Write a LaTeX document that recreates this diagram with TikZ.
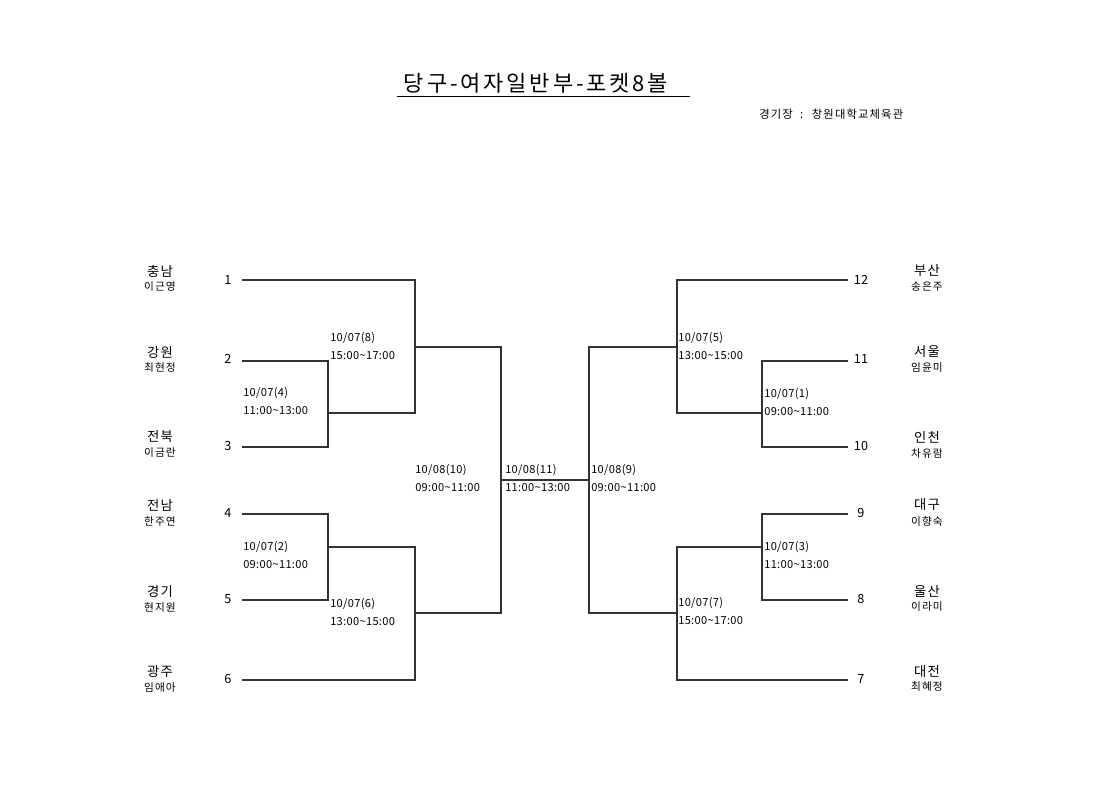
\documentclass[tikz,border=0pt]{standalone}
\usepackage{fontspec}
\setmainfont{Noto Sans CJK KR}
\begin{document}
\begin{tikzpicture}[x=0.75pt,y=-0.75pt,
  bline/.style={draw=black!80,line width=0.8pt},
  seednum/.style={font=\fontsize{9.5}{11}\selectfont,inner sep=0pt},
  team/.style={font=\fontsize{10}{11}\selectfont\addfontfeatures{LetterSpace=8},inner sep=0pt},
  player/.style={font=\fontsize{8}{9}\selectfont\addfontfeatures{LetterSpace=10},inner sep=0pt},
  gamelbl/.style={font=\fontsize{8.3}{13.5}\selectfont\addfontfeatures{LetterSpace=3},align=left,anchor=west,inner sep=0pt}]
\useasboundingbox (0,0) rectangle (1120,792);
% title
\node[inner sep=0pt,font=\fontsize{16.5}{18}\selectfont\addfontfeatures{LetterSpace=13}] (title) at (536,83) {당구-여자일반부-포켓8볼};
\coordinate (ul1) at (397,96);
\coordinate (ul2) at (690,96);
\draw[black,line width=0.7pt] (ul1) -- (ul2);
\node[inner sep=0pt,anchor=west,font=\fontsize{8.5}{9}\selectfont\addfontfeatures{LetterSpace=10}] (venue) at (759,114) {경기장 \ : \ 창원대학교체육관};
% left seed line ends
\coordinate (a1) at (242,280);
\coordinate (a2) at (242,361);
\coordinate (a3) at (242,447);
\coordinate (a4) at (242,514);
\coordinate (a5) at (242,600);
\coordinate (a6) at (242,680);
% right seed line ends
\coordinate (b12) at (848,280);
\coordinate (b11) at (848,361);
\coordinate (b10) at (848,447);
\coordinate (b9) at (848,514);
\coordinate (b8) at (848,600);
\coordinate (b7) at (848,680);
% match points
\coordinate (c4) at (328,413);
\coordinate (c8) at (415,347);
\coordinate (c2) at (328,547);
\coordinate (c6) at (415,613);
\coordinate (c10) at (501,480);
\coordinate (c9) at (589,480);
\coordinate (c5) at (677,347);
\coordinate (c1) at (762,413);
\coordinate (c7) at (677,613);
\coordinate (c3) at (762,547);
% left bracket
\draw[bline] (a1) -| (c8) |- (c4);
\draw[bline] (a2) -| (c4) |- (a3);
\draw[bline] (c8) -| (c10) |- (c6);
\draw[bline] (c2) -| (c6) |- (a6);
\draw[bline] (a4) -| (c2) |- (a5);
\draw[bline] (c10) -- (c9);
% right bracket
\draw[bline] (c9) |- (c5);
\draw[bline] (c5) |- (b12);
\draw[bline] (c5) |- (c1);
\draw[bline] (b11) -| (c1) |- (b10);
\draw[bline] (c9) |- (c7);
\draw[bline] (c7) |- (c3);
\draw[bline] (c7) |- (b7);
\draw[bline] (b9) -| (c3) |- (b8);
% seed numbers
\node[seednum] (n1) at (228,280) {1};
\node[seednum] (n2) at (228,359) {2};
\node[seednum] (n3) at (228,446) {3};
\node[seednum] (n4) at (228,513) {4};
\node[seednum] (n5) at (228,599) {5};
\node[seednum] (n6) at (228,679) {6};
\node[seednum] (n12) at (861,280) {12};
\node[seednum] (n11) at (861,359) {11};
\node[seednum] (n10) at (861,446) {10};
\node[seednum] (n9) at (861,513) {9};
\node[seednum] (n8) at (861,599) {8};
\node[seednum] (n7) at (861,679) {7};
% teams left
\node[team] (t1) at (160,271) {충남};
\node[player] (p1) at (160,287) {이근영};
\node[team] (t2) at (160,352) {강원};
\node[player] (p2) at (160,368) {최현정};
\node[team] (t3) at (160,437) {전북};
\node[player] (p3) at (160,453) {이금란};
\node[team] (t4) at (160,505) {전남};
\node[player] (p4) at (160,521) {한주연};
\node[team] (t5) at (160,591) {경기};
\node[player] (p5) at (160,607) {현지원};
\node[team] (t6) at (160,671) {광주};
\node[player] (p6) at (160,687) {임애아};
% teams right
\node[team] (t12) at (927,271) {부산};
\node[player] (p12) at (927,287) {송은주};
\node[team] (t11) at (927,352) {서울};
\node[player] (p11) at (927,368) {임윤미};
\node[team] (t10) at (927,437) {인천};
\node[player] (p10) at (927,453) {차유람};
\node[team] (t9) at (927,505) {대구};
\node[player] (p9) at (927,521) {이향숙};
\node[team] (t8) at (927,591) {울산};
\node[player] (p8) at (927,607) {이라미};
\node[team] (t7) at (927,671) {대전};
\node[player] (p7) at (927,687) {최혜정};
% game labels
\node[gamelbl] (g8) at (330,346) {10/07(8)\\15:00\textasciitilde17:00};
\node[gamelbl] (g4) at (243,401) {10/07(4)\\11:00\textasciitilde13:00};
\node[gamelbl] (g2) at (243,555) {10/07(2)\\09:00\textasciitilde11:00};
\node[gamelbl] (g6) at (330,612) {10/07(6)\\13:00\textasciitilde15:00};
\node[gamelbl] (g10) at (415,478) {10/08(10)\\09:00\textasciitilde11:00};
\node[gamelbl] (g11) at (505,478) {10/08(11)\\11:00\textasciitilde13:00};
\node[gamelbl] (g9) at (591,478) {10/08(9)\\09:00\textasciitilde11:00};
\node[gamelbl] (g5) at (678,346) {10/07(5)\\13:00\textasciitilde15:00};
\node[gamelbl] (g1) at (764,402) {10/07(1)\\09:00\textasciitilde11:00};
\node[gamelbl] (g3) at (764,555) {10/07(3)\\11:00\textasciitilde13:00};
\node[gamelbl] (g7) at (678,611) {10/07(7)\\15:00\textasciitilde17:00};
\end{tikzpicture}
\end{document}
